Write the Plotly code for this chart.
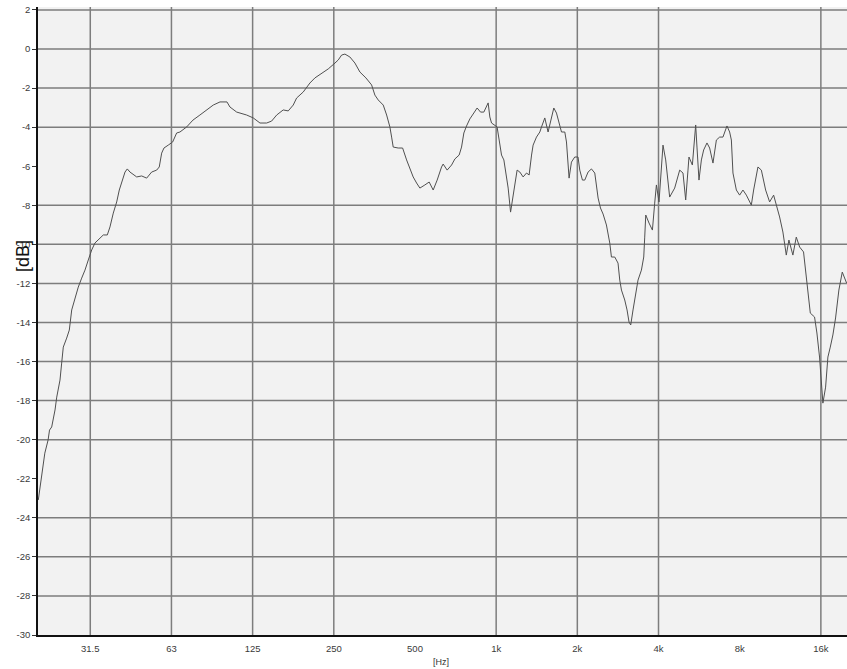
import plotly.graph_objects as go

# Frequency response: frequency in Hz, level in dB
freq_hz = [20.05, 20.5, 21.2, 21.8, 22.07, 22.48, 23.13, 23.47, 24.13, 24.48,
           24.82, 25.55, 26.13, 26.67, 27.43, 28.21, 29.04, 29.87, 30.73, 31.63,
           32.53, 33.96, 34.93, 36.14, 36.98, 38.04, 39.16, 40.04, 40.87, 42.04,
           42.87, 43.87, 46.45, 48.48, 50.58, 52.78, 55.09, 56.32, 57.49, 58.63,
           60.83, 63.15, 65.34, 67.2, 71.17, 75.1, 79.7, 84.4, 89.3, 94.6,
           100.4, 103.0, 109.1, 118.8, 125.7, 133.1, 140.9, 147.0, 153.5, 162.3,
           169.4, 176.8, 182.0, 192.6, 203.9, 212.8, 225.3, 238.4, 252.5, 259.7,
           267.3, 274.9, 286.9, 299.4, 312.5, 328.9, 345.3, 355.1, 365.3, 381.3,
           392.5, 403.6, 409.6, 415.2, 433.3, 449.9, 465.5, 478.7, 492.4, 506.9,
           521.4, 544.1, 564.4, 584.1, 604.3, 627.4, 636.0, 658.2, 683.4, 702.9,
           729.1, 744.2, 758.9, 776.6, 798.8, 821.6, 850.1, 875.2, 900.2, 933.9,
           947.5, 961.4, 988.8, 1008, 1026, 1047, 1068, 1086, 1108, 1131,
           1150, 1173, 1196, 1224, 1259, 1296, 1325, 1353, 1371, 1411, 1452,
           1473, 1515, 1558, 1604, 1636, 1674, 1722, 1747, 1797, 1823,
           1864, 1902, 1956, 2012, 2042, 2089, 2131, 2192, 2256, 2321,
           2388, 2437, 2492, 2564, 2638, 2676, 2753, 2831, 2873, 2915,
           2998, 3058, 3110, 3155, 3218, 3293, 3358, 3457, 3526, 3556,
           3587, 3689, 3797, 3872, 3929, 4017, 4100, 4156, 4253, 4400, 4592, 4793,
           4930, 5045, 5145, 5188, 5341, 5400, 5494, 5555, 5651, 5768,
           5882, 6050, 6190, 6368, 6556, 6743, 6934, 7176, 7343, 7451,
           7553, 7775, 7997, 8226, 8468, 8837, 9012, 9350, 9625, 9984,
           10330, 10690, 11000, 11250, 11570, 11910, 12180, 12600, 12970, 13350,
           13800, 14040, 14320, 14620, 15160, 15470, 15820, 16060, 16280, 16660,
           16990, 17340, 17730, 18140, 18660, 19210, 19590, 19930]

level_db = [-23.09, -22.22, -20.69, -20.02, -19.51, -19.35, -18.48, -17.82, -16.95, -16.08,
            -15.26, -14.80, -14.39, -13.36, -12.70, -12.19, -11.73, -11.32, -10.80, -10.29,
            -9.93, -9.68, -9.52, -9.52, -9.11, -8.40, -7.83, -7.22, -6.86, -6.30,
            -6.14, -6.30, -6.55, -6.50, -6.61, -6.30, -6.20, -6.04, -5.33, -5.07,
            -4.92, -4.76, -4.30, -4.25, -3.99, -3.64, -3.38, -3.12, -2.87, -2.71,
            -2.71, -2.97, -3.23, -3.38, -3.53, -3.79, -3.79, -3.69, -3.38, -3.12,
            -3.17, -2.87, -2.51, -2.20, -1.74, -1.48, -1.23, -1.02, -0.72, -0.56,
            -0.31, -0.26, -0.41, -0.72, -1.18, -1.48, -1.84, -2.36, -2.61, -2.87,
            -3.38, -3.99, -4.51, -5.02, -5.07, -5.07, -5.68, -6.09, -6.55, -6.86,
            -7.12, -6.96, -6.81, -7.22, -6.71, -6.04, -5.89, -6.20, -5.94, -5.63,
            -5.43, -5.02, -4.30, -3.94, -3.58, -3.33, -3.02, -3.23, -3.23, -2.76,
            -3.48, -3.79, -3.89, -3.99, -4.66, -5.43, -5.68, -6.30, -7.12, -8.35,
            -7.73, -7.07, -6.20, -6.30, -6.55, -6.35, -6.45, -5.43, -4.92, -4.51, -4.25,
            -3.99, -3.53, -4.25, -3.48, -3.02, -3.28, -3.89, -4.25, -4.25, -4.76,
            -6.61, -5.79, -5.53, -5.53, -6.20, -6.71, -6.71, -6.30, -6.14, -6.35,
            -7.63, -8.14, -8.45, -9.01, -9.93, -10.65, -10.65, -10.96, -11.83, -12.34,
            -12.85, -13.36, -13.98, -14.13, -13.36, -12.49, -11.83, -11.32, -10.65, -9.63,
            -8.50, -8.91, -9.27, -7.89, -6.96, -7.83, -6.20, -4.92, -5.68, -7.58, -7.12, -6.20,
            -6.35, -7.73, -6.20, -5.53, -5.94, -5.17, -3.89, -5.02, -6.71, -5.68,
            -5.17, -4.81, -5.07, -5.84, -4.66, -4.51, -4.51, -3.94, -4.25, -4.66,
            -6.35, -7.22, -7.48, -7.22, -7.48, -7.99, -7.22, -6.04, -6.20, -7.22,
            -7.83, -7.48, -8.09, -8.60, -9.37, -10.55, -9.78, -10.55, -9.63, -10.14,
            -10.39, -11.32, -12.34, -13.52, -13.72, -14.54, -15.77, -16.95, -18.13, -17.31,
            -15.77, -15.26, -14.64, -13.77, -12.34, -11.42, -11.67, -11.98]

assert len(freq_hz) == len(level_db)

# Octave tick positions and their labels
x_tick_vals = [31.25, 62.5, 125, 250, 500, 1000, 2000, 4000, 8000, 16000]
x_tick_text = ["31.5", "63", "125", "250", "500", "1k", "2k", "4k", "8k", "16k"]
x_grid_vals = [31.25, 62.5, 125, 250, 1000, 2000, 4000, 16000]

y_tick_vals = list(range(-30, 3, 2))
y_tick_text = [str(v) for v in y_tick_vals]
y_grid_vals = [2, 0, -2, -4, -8, -10, -12, -14, -16, -18, -20, -24, -26, -28]

GRID = "#7d7d7d"
TICK_FONT = dict(family="Liberation Sans Narrow, Liberation Sans, Arial", size=9.5, color="#3a3a3a")

fig = go.Figure()
fig.add_trace(go.Scatter(
    x=freq_hz, y=level_db, mode="lines",
    line=dict(color="#505050", width=1),
    showlegend=False, hoverinfo="skip",
))

shapes = []
for v in y_grid_vals:
    shapes.append(dict(type="line", xref="paper", x0=0, x1=1, yref="y", y0=v, y1=v,
                       line=dict(color=GRID, width=1.5), layer="below"))
for v in x_grid_vals:
    shapes.append(dict(type="line", yref="paper", y0=0, y1=1, xref="x", x0=v, x1=v,
                       line=dict(color=GRID, width=1.5), layer="below"))

fig.update_layout(
    width=847, height=669,
    margin=dict(l=38, r=0, t=7, b=34),
    paper_bgcolor="white",
    plot_bgcolor="#f2f2f2",
    shapes=shapes,
    xaxis=dict(
        type="log", range=[1.30103, 4.30103],
        tickmode="array", tickvals=x_tick_vals, ticktext=x_tick_text,
        showgrid=False, zeroline=False,
        showline=True, linecolor="#111111", linewidth=1.5,
        ticks="", ticklabelstandoff=4,
        tickfont=TICK_FONT,
    ),
    yaxis=dict(
        range=[-30, 2.15],
        tickmode="array", tickvals=y_tick_vals, ticktext=y_tick_text,
        showgrid=False, zeroline=False,
        showline=True, linecolor="#111111", linewidth=1.5,
        ticks="outside", ticklen=4, tickcolor="#333333",
        tickfont=TICK_FONT,
    ),
    annotations=[
        dict(text="[dB]", xref="paper", yref="paper", x=-0.0185, y=0.6035,
             textangle=-90, showarrow=False, xanchor="center", yanchor="middle",
             font=dict(family="Liberation Sans, Arial", size=18, color="#111111")),
        dict(text="[Hz]", xref="paper", yref="paper", x=0.498, y=-0.043,
             showarrow=False, xanchor="center", yanchor="middle",
             font=dict(family="Liberation Sans Narrow, Liberation Sans, Arial", size=9, color="#333333")),
    ],
)

fig.write_html("out.html")
